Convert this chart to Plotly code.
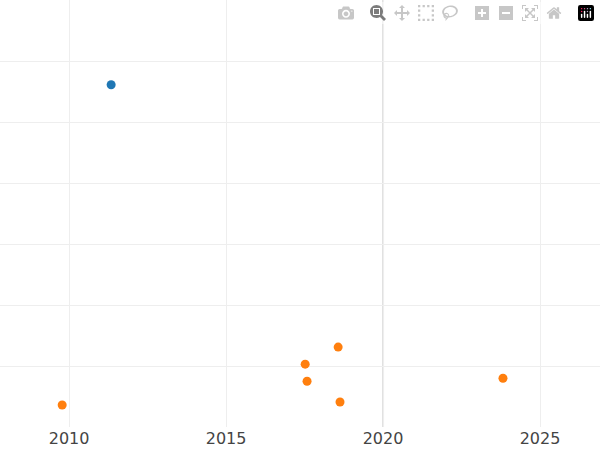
import plotly.graph_objects as go

# blue series
blue_x = [2011.34]
blue_y = [5.61]

# orange series
orange_x = [2009.78, 2017.52, 2017.58, 2018.57, 2018.63, 2023.82]
orange_y = [0.36, 1.03, 0.75, 1.31, 0.41, 0.80]

fig = go.Figure()
fig.add_trace(go.Scatter(x=blue_x, y=blue_y, mode="markers",
                         marker=dict(color="#1f77b4", size=9)))
fig.add_trace(go.Scatter(x=orange_x, y=orange_y, mode="markers",
                         marker=dict(color="#ff7f0e", size=9)))

fig.add_vline(x=2020, line_color="#e0e0e0", line_width=2, layer="below")

fig.update_layout(
    width=600, height=450,
    margin=dict(l=0, r=0, t=0, b=23),
    showlegend=False,
    plot_bgcolor="white", paper_bgcolor="white",
    font=dict(family="DejaVu Sans", size=16, color="#444"),
    xaxis=dict(range=[2007.8, 2026.91], dtick=5, showgrid=True,
               gridcolor="#eeeeee", zeroline=False, ticks=""),
    yaxis=dict(range=[0, 7], dtick=1, showgrid=True, gridcolor="#eeeeee",
               showticklabels=False, zeroline=False),
)

fig.write_html("out.html",
               post_script="document.body.style.margin='0';document.body.style.overflow='hidden';")
